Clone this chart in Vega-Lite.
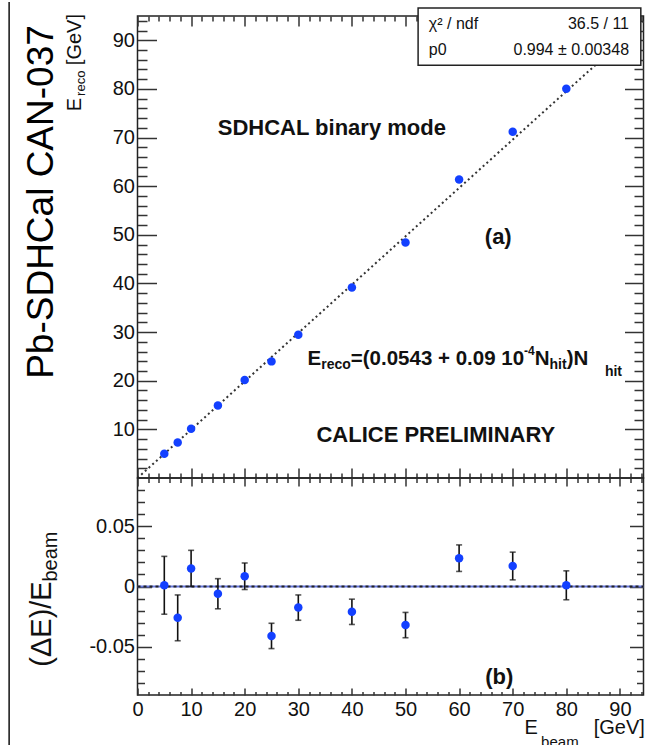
{
  "$schema": "https://vega.github.io/schema/vega-lite/v6.json",
  "padding": {"left": 7.5, "top": 0, "right": 0, "bottom": 0},
  "spacing": 0,
  "bounds": "flush",
  "config": {
    "font": "Liberation Sans",
    "view": {"stroke": "#222222", "strokeWidth": 1.5},
    "axis": {"domain": false, "grid": false, "title": null, "tickColor": "#333333", "tickWidth": 1.5, "labelFont": "Liberation Sans", "labelFontSize": 20, "labelColor": "#111111", "labelFlush": false, "labelOverlap": false, "labelBound": false, "minExtent": 0}
  },
  "datasets": {
    "reco": [{"E":5,"R":5.0},{"E":7.5,"R":7.31},{"E":10,"R":10.15},{"E":15,"R":14.9},{"E":20,"R":20.17},{"E":25,"R":23.98},{"E":30,"R":29.48},{"E":40,"R":39.16},{"E":50,"R":48.42},{"E":60,"R":61.4},{"E":70,"R":71.19},{"E":80,"R":80.06}],
    "resid": [{"E":5,"r":0.001,"err":0.024},{"E":7.5,"r":-0.026,"err":0.019},{"E":10,"r":0.015,"err":0.015},{"E":15,"r":-0.006,"err":0.0125},{"E":20,"r":0.0085,"err":0.011},{"E":25,"r":-0.041,"err":0.0105},{"E":30,"r":-0.0175,"err":0.0105},{"E":40,"r":-0.021,"err":0.0105},{"E":50,"r":-0.032,"err":0.0105},{"E":60,"r":0.0235,"err":0.011},{"E":70,"r":0.017,"err":0.0115},{"E":80,"r":0.001,"err":0.012}],
    "fit": [{"E":0,"R":0},{"E":94.4,"R":93.83}]
  },
  "vconcat": [
    {
      "width": 506, "height": 462,
      "resolve": {"axis": {"x": "independent", "y": "independent"}},
      "layer": [
        {
          "data": {"name": "fit"},
          "mark": {"type": "line", "color": "#333333", "strokeWidth": 2, "strokeDash": [2, 3]},
          "encoding": {
            "x": {"field": "E", "type": "quantitative", "scale": {"domain": [0, 94.4], "nice": false, "zero": false}, "axis": {"orient": "top", "labels": false, "values": [0,2,4,6,8,10,12,14,16,18,20,22,24,26,28,30,32,34,36,38,40,42,44,46,48,50,52,54,56,58,60,62,64,66,68,70,72,74,76,78,80,82,84,86,88,90,92,94], "tickSize": {"expr": "datum.value % 10 === 0 ? -10 : -5"}}},
            "y": {"field": "R", "type": "quantitative", "scale": {"domain": [0, 95], "nice": false, "zero": false}, "axis": {"orient": "right", "labels": false, "values": [2,4,6,8,10,12,14,16,18,20,22,24,26,28,30,32,34,36,38,40,42,44,46,48,50,52,54,56,58,60,62,64,66,68,70,72,74,76,78,80,82,84,86,88,90,92,94], "tickSize": {"expr": "datum.value % 10 === 0 ? -19 : -9.5"}}}
          }
        },
        {
          "data": {"name": "reco"},
          "mark": {"type": "point", "filled": true, "shape": "circle", "size": 72, "color": "#1340ff", "opacity": 1},
          "encoding": {
            "x": {"field": "E", "type": "quantitative", "scale": {"domain": [0, 94.4], "nice": false, "zero": false}, "axis": {"orient": "bottom", "labels": false, "values": [0,2,4,6,8,10,12,14,16,18,20,22,24,26,28,30,32,34,36,38,40,42,44,46,48,50,52,54,56,58,60,62,64,66,68,70,72,74,76,78,80,82,84,86,88,90,92,94], "tickSize": {"expr": "datum.value % 10 === 0 ? -10 : -5"}}},
            "y": {"field": "R", "type": "quantitative", "scale": {"domain": [0, 95], "nice": false, "zero": false}, "axis": {"orient": "left", "values": [2,4,6,8,10,12,14,16,18,20,22,24,26,28,30,32,34,36,38,40,42,44,46,48,50,52,54,56,58,60,62,64,66,68,70,72,74,76,78,80,82,84,86,88,90,92,94], "labelExpr": "datum.value % 10 === 0 ? datum.label : ''", "labelFontSize": {"condition": {"test": "datum.value % 10 === 0", "value": 20}, "value": 0}, "labelPadding": 22, "tickSize": {"expr": "datum.value % 10 === 0 ? -19 : -9.5"}}}
          }
        },
        {
          "data": {"values": [{"x1": 52.35, "x2": 93.9, "y1": 84.86, "y2": 96.65}]},
          "mark": {"type": "rect", "fill": "#ffffff", "stroke": "#222222", "strokeWidth": 1.5},
          "encoding": {
            "x": {"field": "x1", "type": "quantitative", "scale": {"domain": [0, 94.4], "nice": false, "zero": false}, "axis": null},
            "x2": {"field": "x2"},
            "y": {"field": "y1", "type": "quantitative", "scale": {"domain": [0, 95], "nice": false, "zero": false}, "axis": null},
            "y2": {"field": "y2"}
          }
        },
        {
          "data": {"values": [{"x": 54.35, "y": 92.39, "t": "χ² / ndf"}, {"x": 54.35, "y": 86.92, "t": "p0"}]},
          "mark": {"type": "text", "align": "left", "baseline": "alphabetic", "fontSize": 16, "color": "#111111"},
          "encoding": {
            "x": {"field": "x", "type": "quantitative", "scale": {"domain": [0, 94.4], "nice": false, "zero": false}, "axis": null},
            "y": {"field": "y", "type": "quantitative", "scale": {"domain": [0, 95], "nice": false, "zero": false}, "axis": null},
            "text": {"field": "t"}
          }
        },
        {
          "data": {"values": [{"x": 91.7, "y": 92.39, "t": "36.5 / 11"}, {"x": 91.7, "y": 86.92, "t": "0.994 ± 0.00348"}]},
          "mark": {"type": "text", "align": "right", "baseline": "alphabetic", "fontSize": 16, "color": "#111111"},
          "encoding": {
            "x": {"field": "x", "type": "quantitative", "scale": {"domain": [0, 94.4], "nice": false, "zero": false}, "axis": null},
            "y": {"field": "y", "type": "quantitative", "scale": {"domain": [0, 95], "nice": false, "zero": false}, "axis": null},
            "text": {"field": "t"}
          }
        },
        {
          "data": {"values": [{"x": 36.25, "y": 70.53, "t": "SDHCAL binary mode"}, {"x": 67.3, "y": 48.03, "t": "(a)"}, {"x": 55.65, "y": 7.4, "t": "CALICE PRELIMINARY"}]},
          "mark": {"type": "text", "align": "center", "baseline": "alphabetic", "fontSize": 22, "fontWeight": "bold", "color": "#111111"},
          "encoding": {
            "x": {"field": "x", "type": "quantitative", "scale": {"domain": [0, 94.4], "nice": false, "zero": false}, "axis": null},
            "y": {"field": "y", "type": "quantitative", "scale": {"domain": [0, 95], "nice": false, "zero": false}, "axis": null},
            "text": {"field": "t"}
          }
        },
        {
          "data": {"values": [{"x": 31.72, "y": 23.23, "t": "E"}, {"x": 39.79, "y": 23.23, "t": "=(0.0543 + 0.09 10"}, {"x": 74.1, "y": 23.23, "t": "N"}, {"x": 80.06, "y": 23.23, "t": ")N"}]},
          "mark": {"type": "text", "align": "left", "baseline": "alphabetic", "fontSize": 20.5, "fontWeight": "bold", "color": "#111111"},
          "encoding": {
            "x": {"field": "x", "type": "quantitative", "scale": {"domain": [0, 94.4], "nice": false, "zero": false}, "axis": null},
            "y": {"field": "y", "type": "quantitative", "scale": {"domain": [0, 95], "nice": false, "zero": false}, "axis": null},
            "text": {"field": "t"}
          }
        },
        {
          "data": {"values": [{"x": 34.27, "y": 22.41, "t": "reco"}, {"x": 76.87, "y": 22.41, "t": "hit"}, {"x": 87.2, "y": 21.0, "t": "hit"}]},
          "mark": {"type": "text", "align": "left", "baseline": "alphabetic", "fontSize": 14, "fontWeight": "bold", "color": "#111111"},
          "encoding": {
            "x": {"field": "x", "type": "quantitative", "scale": {"domain": [0, 94.4], "nice": false, "zero": false}, "axis": null},
            "y": {"field": "y", "type": "quantitative", "scale": {"domain": [0, 95], "nice": false, "zero": false}, "axis": null},
            "text": {"field": "t"}
          }
        },
        {
          "data": {"values": [{"x": 72.11, "y": 25.29, "t": "-4"}]},
          "mark": {"type": "text", "align": "left", "baseline": "alphabetic", "fontSize": 12, "fontWeight": "bold", "color": "#111111"},
          "encoding": {
            "x": {"field": "x", "type": "quantitative", "scale": {"domain": [0, 94.4], "nice": false, "zero": false}, "axis": null},
            "y": {"field": "y", "type": "quantitative", "scale": {"domain": [0, 95], "nice": false, "zero": false}, "axis": null},
            "text": {"field": "t"}
          }
        },
        {
          "data": {"values": [{"x": -15.8, "y": 56.75, "t": "Pb-SDHCal CAN-037"}]},
          "mark": {"type": "text", "align": "center", "baseline": "alphabetic", "angle": 270, "fontSize": 37, "color": "#000000"},
          "encoding": {
            "x": {"field": "x", "type": "quantitative", "scale": {"domain": [0, 94.4], "nice": false, "zero": false}, "axis": null},
            "y": {"field": "y", "type": "quantitative", "scale": {"domain": [0, 95], "nice": false, "zero": false}, "axis": null},
            "text": {"field": "t"}
          }
        },
        {
          "data": {"values": [{"x": -10.58, "y": 95.41, "t": "[GeV]"}, {"x": -10.58, "y": 78.14, "t": "E"}]},
          "mark": {"type": "text", "align": "right", "baseline": "alphabetic", "angle": 270, "fontSize": 20, "color": "#111111"},
          "encoding": {
            "x": {"field": "x", "type": "quantitative", "scale": {"domain": [0, 94.4], "nice": false, "zero": false}, "axis": null},
            "y": {"field": "y", "type": "quantitative", "scale": {"domain": [0, 95], "nice": false, "zero": false}, "axis": null},
            "text": {"field": "t"}
          }
        },
        {
          "data": {"values": [{"x": -9.83, "y": 83.77, "t": "reco"}]},
          "mark": {"type": "text", "align": "right", "baseline": "alphabetic", "angle": 270, "fontSize": 13, "color": "#111111"},
          "encoding": {
            "x": {"field": "x", "type": "quantitative", "scale": {"domain": [0, 94.4], "nice": false, "zero": false}, "axis": null},
            "y": {"field": "y", "type": "quantitative", "scale": {"domain": [0, 95], "nice": false, "zero": false}, "axis": null},
            "text": {"field": "t"}
          }
        },
        {
          "data": {"values": [{"x": -23.95, "y1": 97.9, "y2": 0}]},
          "mark": {"type": "rule", "color": "#111111", "strokeWidth": 1.5},
          "encoding": {
            "x": {"field": "x", "type": "quantitative", "scale": {"domain": [0, 94.4], "nice": false, "zero": false}, "axis": null},
            "y": {"field": "y1", "type": "quantitative", "scale": {"domain": [0, 95], "nice": false, "zero": false}, "axis": null},
            "y2": {"field": "y2"}
          }
        }
      ]
    },
    {
      "width": 506, "height": 217,
      "resolve": {"axis": {"x": "independent", "y": "independent"}},
      "layer": [
        {
          "data": {"values": [{"y": 0, "x1": 0, "x2": 94.4}]},
          "mark": {"type": "rule", "color": "#6677dd", "strokeWidth": 2},
          "encoding": {
            "x": {"field": "x1", "type": "quantitative", "scale": {"domain": [0, 94.4], "nice": false, "zero": false}, "axis": {"orient": "top", "labels": false, "values": [0,2,4,6,8,10,12,14,16,18,20,22,24,26,28,30,32,34,36,38,40,42,44,46,48,50,52,54,56,58,60,62,64,66,68,70,72,74,76,78,80,82,84,86,88,90,92,94], "tickSize": {"expr": "datum.value % 10 === 0 ? -8 : -4.5"}}},
            "x2": {"field": "x2"},
            "y": {"field": "y", "type": "quantitative", "scale": {"domain": [-0.09, 0.09], "nice": false, "zero": false}, "axis": {"orient": "right", "labels": false, "values": [-0.08,-0.07,-0.06,-0.05,-0.04,-0.03,-0.02,-0.01,0,0.01,0.02,0.03,0.04,0.05,0.06,0.07,0.08], "tickSize": {"expr": "abs(round(datum.value*100)) % 5 === 0 ? -14 : -7"}}}
          }
        },
        {
          "data": {"values": [{"y": 0, "x1": 0, "x2": 94.4}]},
          "mark": {"type": "rule", "color": "#222222", "strokeWidth": 2, "strokeDash": [3, 3]},
          "encoding": {
            "x": {"field": "x1", "type": "quantitative", "scale": {"domain": [0, 94.4], "nice": false, "zero": false}, "axis": null},
            "x2": {"field": "x2"},
            "y": {"field": "y", "type": "quantitative", "scale": {"domain": [-0.09, 0.09], "nice": false, "zero": false}, "axis": null}
          }
        },
        {
          "data": {"name": "resid"},
          "mark": {"type": "errorbar", "ticks": {"size": 6, "thickness": 1.6, "color": "#111111"}, "rule": {"strokeWidth": 1.6, "color": "#111111"}},
          "encoding": {
            "x": {"field": "E", "type": "quantitative", "scale": {"domain": [0, 94.4], "nice": false, "zero": false}, "axis": null},
            "y": {"field": "r", "type": "quantitative", "scale": {"domain": [-0.09, 0.09], "nice": false, "zero": false}, "axis": null},
            "yError": {"field": "err"}
          }
        },
        {
          "data": {"name": "resid"},
          "mark": {"type": "point", "filled": true, "shape": "circle", "size": 72, "color": "#1340ff", "opacity": 1},
          "encoding": {
            "x": {"field": "E", "type": "quantitative", "scale": {"domain": [0, 94.4], "nice": false, "zero": false}, "axis": {"orient": "bottom", "values": [0,2,4,6,8,10,12,14,16,18,20,22,24,26,28,30,32,34,36,38,40,42,44,46,48,50,52,54,56,58,60,62,64,66,68,70,72,74,76,78,80,82,84,86,88,90,92,94], "labelExpr": "datum.value % 10 === 0 ? datum.label : ''", "labelFontSize": {"condition": {"test": "datum.value % 10 === 0", "value": 20}, "value": 0}, "labelPadding": 11, "tickSize": {"expr": "datum.value % 10 === 0 ? -7 : -3.5"}}},
            "y": {"field": "r", "type": "quantitative", "scale": {"domain": [-0.09, 0.09], "nice": false, "zero": false}, "axis": {"orient": "left", "values": [-0.08,-0.07,-0.06,-0.05,-0.04,-0.03,-0.02,-0.01,0,0.01,0.02,0.03,0.04,0.05,0.06,0.07,0.08], "labelExpr": "abs(round(datum.value*100)) % 5 === 0 ? (abs(datum.value) < 1e-9 ? '0' : (datum.value < 0 ? '-' : '') + format(abs(datum.value), '.2f')) : ''", "labelFontSize": {"condition": {"test": "abs(round(datum.value*100)) % 5 === 0", "value": 20}, "value": 0}, "labelPadding": 17, "tickSize": {"expr": "abs(round(datum.value*100)) % 5 === 0 ? -14 : -7"}}}
          }
        },
        {
          "data": {"values": [{"x": 67.5, "y": -0.0806, "t": "(b)"}]},
          "mark": {"type": "text", "align": "center", "baseline": "alphabetic", "fontSize": 22, "fontWeight": "bold", "color": "#111111"},
          "encoding": {
            "x": {"field": "x", "type": "quantitative", "scale": {"domain": [0, 94.4], "nice": false, "zero": false}, "axis": null},
            "y": {"field": "y", "type": "quantitative", "scale": {"domain": [-0.09, 0.09], "nice": false, "zero": false}, "axis": null},
            "text": {"field": "t"}
          }
        },
        {
          "data": {"values": [{"x": -16.18, "y": -0.06656, "t": "(ΔE)/E"}]},
          "mark": {"type": "text", "align": "left", "baseline": "alphabetic", "angle": 270, "fontSize": 29, "color": "#111111"},
          "encoding": {
            "x": {"field": "x", "type": "quantitative", "scale": {"domain": [0, 94.4], "nice": false, "zero": false}, "axis": null},
            "y": {"field": "y", "type": "quantitative", "scale": {"domain": [-0.09, 0.09], "nice": false, "zero": false}, "axis": null},
            "text": {"field": "t"}
          }
        },
        {
          "data": {"values": [{"x": -15.06, "y": 0.0041, "t": "beam"}]},
          "mark": {"type": "text", "align": "left", "baseline": "alphabetic", "angle": 270, "fontSize": 20, "color": "#111111"},
          "encoding": {
            "x": {"field": "x", "type": "quantitative", "scale": {"domain": [0, 94.4], "nice": false, "zero": false}, "axis": null},
            "y": {"field": "y", "type": "quantitative", "scale": {"domain": [-0.09, 0.09], "nice": false, "zero": false}, "axis": null},
            "text": {"field": "t"}
          }
        },
        {
          "data": {"values": [{"x": 74.7, "y": -0.1225, "t": "E"}, {"x": 94.65, "y": -0.1225, "t": "[GeV]"}]},
          "mark": {"type": "text", "align": "right", "baseline": "alphabetic", "fontSize": 20, "color": "#111111"},
          "encoding": {
            "x": {"field": "x", "type": "quantitative", "scale": {"domain": [0, 94.4], "nice": false, "zero": false}, "axis": null},
            "y": {"field": "y", "type": "quantitative", "scale": {"domain": [-0.09, 0.09], "nice": false, "zero": false}, "axis": null},
            "text": {"field": "t"}
          }
        },
        {
          "data": {"values": [{"x": 82.3, "y": -0.1335, "t": "beam"}]},
          "mark": {"type": "text", "align": "right", "baseline": "alphabetic", "fontSize": 15, "color": "#111111"},
          "encoding": {
            "x": {"field": "x", "type": "quantitative", "scale": {"domain": [0, 94.4], "nice": false, "zero": false}, "axis": null},
            "y": {"field": "y", "type": "quantitative", "scale": {"domain": [-0.09, 0.09], "nice": false, "zero": false}, "axis": null},
            "text": {"field": "t"}
          }
        },
        {
          "data": {"values": [{"x": -23.95, "y1": 0.09, "y2": -0.135}]},
          "mark": {"type": "rule", "color": "#111111", "strokeWidth": 1.5},
          "encoding": {
            "x": {"field": "x", "type": "quantitative", "scale": {"domain": [0, 94.4], "nice": false, "zero": false}, "axis": null},
            "y": {"field": "y1", "type": "quantitative", "scale": {"domain": [-0.09, 0.09], "nice": false, "zero": false}, "axis": null},
            "y2": {"field": "y2"}
          }
        }
      ]
    }
  ]
}
